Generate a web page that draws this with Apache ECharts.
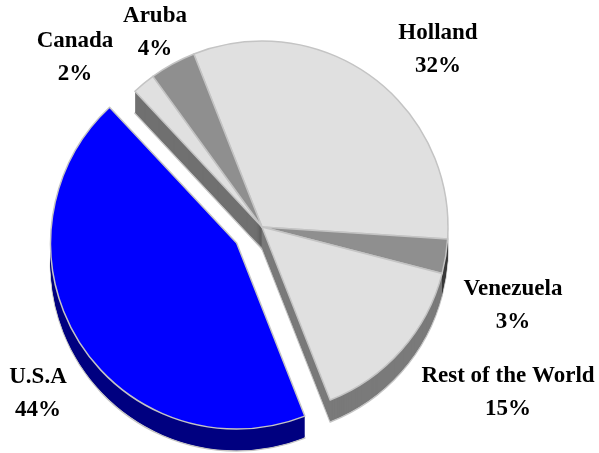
<!DOCTYPE html>
<html>
<head>
<meta charset="utf-8">
<script src="https://cdn.jsdelivr.net/npm/echarts@6/dist/echarts.min.js"></script>
<style>
html,body{margin:0;padding:0;background:#fff;}
#c{width:599px;height:453px;}
</style>
</head>
<body>
<div id="c"></div>
<script>
// Data (clockwise from the Holland slice)
const categories = ['Holland', 'Venezuela', 'Rest of the World', 'U.S.A', 'Canada', 'Aruba'];
const shares = [32, 3, 15, 44, 2, 4];
const explodedCategory = 'U.S.A';

// Styles
const topColors = ['#e0e0e0', '#8f8f8f', '#e0e0e0', '#0000ff', '#e0e0e0', '#8f8f8f'];
const sideColors = ['#777777', '#3a3a3a', '#7a7a7a', '#000080', '#707070', '#5a5a5a'];
const labelPos = [[438, 50], [513, 306], [508, 393], [38, 394], [75, 58], [155, 33]];

const CX = 262, CY = 227, R = 186, DEPTH = 22, OFFSET = 30, START = 111.5;

function buildData(colors, withBorder) {
  return categories.map((name, i) => ({
    name: name,
    value: shares[i],
    selected: name === explodedCategory,
    itemStyle: {
      color: colors[i],
      borderColor: withBorder ? '#c4c4c4' : colors[i],
      borderWidth: withBorder ? 1.5 : 0
    }
  }));
}

function baseSeries(cy, data) {
  return {
    type: 'pie',
    silent: true,
    center: [CX, cy],
    radius: [0, R],
    startAngle: START,
    clockwise: true,
    selectedMode: 'single',
    selectedOffset: OFFSET,
    label: {show: false},
    labelLine: {show: false},
    emphasis: {disabled: true},
    animation: false,
    data: data
  };
}

const series = [];
for (let k = DEPTH; k >= 1; k -= 1) {
  series.push(baseSeries(CY + k, buildData(sideColors, k === DEPTH)));
}
series.push(baseSeries(CY, buildData(topColors, true)));

// label-only layer (transparent sectors, not exploded)
series.push({
  type: 'pie',
  silent: true,
  center: [CX, CY],
  radius: [0, R],
  startAngle: START,
  clockwise: true,
  animation: false,
  emphasis: {disabled: true},
  itemStyle: {color: 'rgba(0,0,0,0)', borderWidth: 0},
  label: {
    show: true,
    position: 'outside',
    alignTo: 'none',
    overflow: 'none',
    formatter: '{b}\n{c}%',
    fontFamily: 'Liberation Serif, Times New Roman, serif',
    fontWeight: 'bold',
    fontSize: 23,
    lineHeight: 33,
    color: '#000',
    align: 'center'
  },
  labelLine: {show: false},
  labelLayout: function (params) {
    const p = labelPos[params.dataIndex];
    return {x: p[0], y: p[1], align: 'center', verticalAlign: 'middle'};
  },
  data: categories.map((name, i) => ({name: name, value: shares[i]}))
});

const chart = echarts.init(document.getElementById('c'), null, {renderer: 'canvas'});
chart.setOption({
  backgroundColor: '#ffffff',
  animation: false,
  series: series
});
</script>
</body>
</html>
